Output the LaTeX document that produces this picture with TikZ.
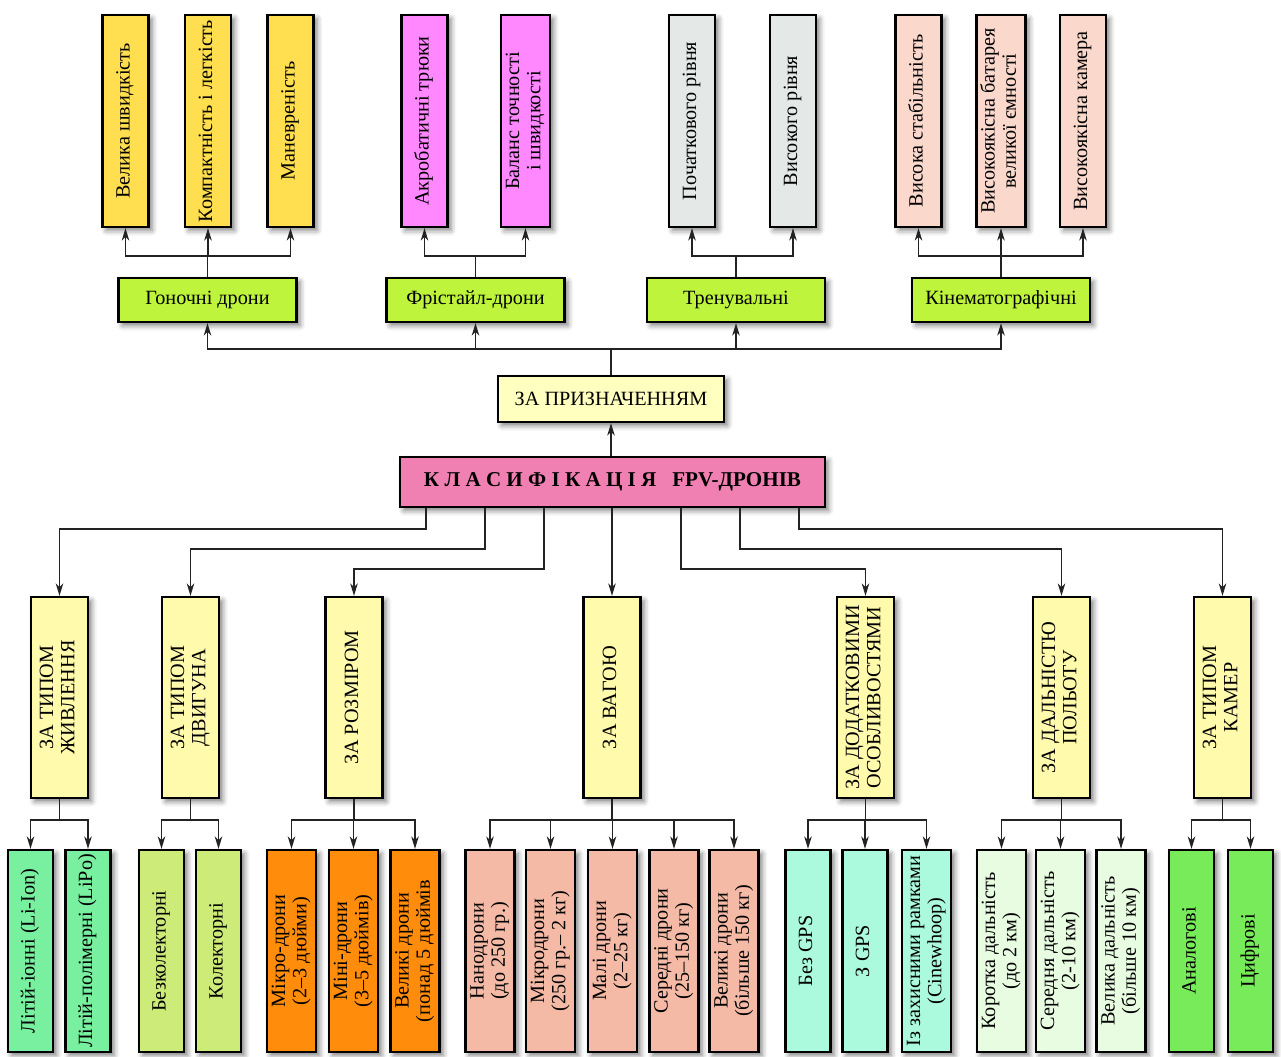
\documentclass[tikz,border=0pt]{standalone}
\usepackage{fontspec}
\setmainfont{Liberation Serif}
\usetikzlibrary{arrows.meta, calc, shadows.blur}

\definecolor{topyel}{RGB}{255,222,80}
\definecolor{topmag}{RGB}{255,135,255}
\definecolor{topgray}{RGB}{228,232,230}
\definecolor{toppeach}{RGB}{250,216,204}
\definecolor{lime}{RGB}{190,245,60}
\definecolor{paleyel}{RGB}{255,255,192}
\definecolor{mainpink}{RGB}{240,128,178}
\definecolor{catyel}{RGB}{255,250,172}
\definecolor{mint}{RGB}{120,240,160}
\definecolor{olivegr}{RGB}{205,235,120}
\definecolor{orng}{RGB}{255,140,10}
\definecolor{salmon}{RGB}{245,186,166}
\definecolor{aqua}{RGB}{172,250,222}
\definecolor{palegr}{RGB}{232,252,225}
\definecolor{camgr}{RGB}{120,235,90}
\definecolor{linecol}{RGB}{35,35,35}

\tikzset{
	box/.style={draw=black, line width=1.3pt, inner sep=2pt, align=center,
		font=\fontsize{11.5}{12}\selectfont,
		blur shadow={shadow xshift=2pt, shadow yshift=-2pt, shadow blur radius=3pt, shadow opacity=50}}
}
\tikzset{
	topbox/.style={box, minimum width=0.92cm, minimum height=4.24cm},
	hbox/.style={box, minimum width=3.56cm, minimum height=0.88cm},
	catbox/.style={box, fill=catyel, minimum width=1.14cm, minimum height=4.02cm},
	leafbox/.style={box, minimum width=0.9cm, minimum height=4.04cm}
}
\tikzset{
	link/.style={draw=linecol, line width=0.9pt},
	arr/.style={link, -{Stealth[length=7pt, width=4.2pt, inset=2pt]}}
}
\newcommand{\vt}[1]{\rotatebox{90}{\begin{tabular}{@{}c@{}}#1\end{tabular}}}

\begin{document}
\begin{tikzpicture}[x=0.02cm, y=-0.02cm]
	\useasboundingbox (0,0) rectangle (1281,1057);

	% top level
	\node[topbox, fill=topyel] (v1) at (125.5,121) {\vt{Велика швидкість}};
	\node[topbox, fill=topyel] (v2) at (208,121) {\vt{Компактність і легкість}};
	\node[topbox, fill=topyel] (v3) at (290.5,121) {\vt{Маневреність}};
	\node[topbox, fill=topmag] (a1) at (424.5,121) {\vt{Акробатичні трюки}};
	\node[topbox, fill=topmag] (a2) at (525.5,121) {\vt{Баланс точності\\і швидкості}};
	\node[topbox, fill=topgray] (t1) at (692,121) {\vt{Початкового рівня}};
	\node[topbox, fill=topgray] (t2) at (793,121) {\vt{Високого рівня}};
	\node[topbox, fill=toppeach] (k1) at (918.5,121) {\vt{Висока стабільність}};
	\node[topbox, fill=toppeach] (k2) at (1001,121) {\vt{Високоякісна батарея\\великої ємності}};
	\node[topbox, fill=toppeach] (k3) at (1083,121) {\vt{Високоякісна камера}};

	\node[hbox, fill=lime] (g1) at (207.5,300) {Гоночні дрони};
	\node[hbox, fill=lime] (g2) at (475.5,300) {Фрістайл-дрони};
	\node[hbox, fill=lime] (g3) at (736,300) {Тренувальні};
	\node[hbox, fill=lime] (g4) at (1001,300) {Кінематографічні};

	\node[box, fill=paleyel, minimum width=4.52cm, minimum height=0.92cm] (zp) at (611,399) {ЗА ПРИЗНАЧЕННЯМ};
	\node[box, fill=mainpink, minimum width=8.5cm, minimum height=1cm, font=\fontsize{12}{14}\selectfont\bfseries] (main) at (612.5,482)
		{К Л А С И Ф І К А Ц І Я \ \ FPV-ДРОНІВ};

	% categories
	\node[catbox] (c1) at (59.5,697.5) {\vt{ЗА ТИПОМ\\ЖИВЛЕННЯ}};
	\node[catbox] (c2) at (190.5,697.5) {\vt{ЗА ТИПОМ\\ДВИГУНА}};
	\node[catbox] (c3) at (354,697.5) {\vt{ЗА РОЗМІРОМ}};
	\node[catbox] (c4) at (612,697.5) {\vt{ЗА ВАГОЮ}};
	\node[catbox] (c5) at (865.5,697.5) {\vt{ЗА ДОДАТКОВИМИ\\ОСОБЛИВОСТЯМИ}};
	\node[catbox] (c6) at (1061.5,697.5) {\vt{ЗА ДАЛЬНІСТЮ\\ПОЛЬОТУ}};
	\node[catbox] (c7) at (1222.5,697.5) {\vt{ЗА ТИПОМ\\КАМЕР}};

	% leaves
	\node[leafbox, fill=mint] (l1) at (30.5,951) {\vt{Літій-іонні (Li-Ion)}};
	\node[leafbox, fill=mint] (l2) at (88,951) {\vt{Літій-полімерні (LiPo)}};
	\node[leafbox, fill=olivegr] (m1) at (161.5,951) {\vt{Безколекторні}};
	\node[leafbox, fill=olivegr] (m2) at (218.5,951) {\vt{Колекторні}};
	\node[leafbox, fill=orng] (s1) at (291.5,951) {\vt{Мікро-дрони\\(2–3 дюйми)}};
	\node[leafbox, fill=orng] (s2) at (353.5,951) {\vt{Міні-дрони\\(3–5 дюймів)}};
	\node[leafbox, fill=orng] (s3) at (415,951) {\vt{Великі дрони\\(понад 5 дюймів}};
	\node[leafbox, fill=salmon] (w1) at (490,951) {\vt{Нанодрони\\(до 250 гр.)}};
	\node[leafbox, fill=salmon] (w2) at (550.5,951) {\vt{Мікродрони\\(250 гр.– 2 кг)}};
	\node[leafbox, fill=salmon] (w3) at (612.5,951) {\vt{Малі дрони\\(2–25 кг)}};
	\node[leafbox, fill=salmon] (w4) at (674,951) {\vt{Середні дрони\\(25–150 кг)}};
	\node[leafbox, fill=salmon] (w5) at (734,951) {\vt{Великі дрони\\(більше 150 кг)}};
	\node[leafbox, fill=aqua] (f1) at (808,951) {\vt{Без GPS}};
	\node[leafbox, fill=aqua] (f2) at (865,951) {\vt{З GPS}};
	\node[leafbox, fill=aqua] (f3) at (926.5,951) {\vt{Із захисними рамками\\(Cinewhoop)}};
	\node[leafbox, fill=palegr] (r1) at (1001.5,951) {\vt{Коротка дальність\\(до 2 км)}};
	\node[leafbox, fill=palegr] (r2) at (1060.5,951) {\vt{Середня дальність\\(2-10 км)}};
	\node[leafbox, fill=palegr] (r3) at (1121,951) {\vt{Велика дальність\\(більше 10 км)}};
	\node[leafbox, fill=camgr] (p1) at (1191.5,951) {\vt{Аналогові}};
	\node[leafbox, fill=camgr] (p2) at (1250.5,951) {\vt{Цифрові}};

	% arrows up
	\foreach \t in {v1,v2,v3} \draw[arr] (g1.north) -- ++(0,-21) -| (\t.south);
	\foreach \t in {a1,a2} \draw[arr] (g2.north) -- ++(0,-21) -| (\t.south);
	\foreach \t in {t1,t2} \draw[arr] (g3.north) -- ++(0,-21) -| (\t.south);
	\foreach \t in {k1,k2,k3} \draw[arr] (g4.north) -- ++(0,-21) -| (\t.south);
	\draw[link] (zp.north) -- ++(0,-26) coordinate (hub);
	\foreach \g in {g1,g2,g3,g4} \draw[arr] (hub) -| (\g.south);
	\draw[arr] (zp.south |- main.north) -- (zp.south);

	% arrows down
	\draw[arr] ($(main.south)+(-186.5,0)$) -- ++(0,21) -| (c1.north);
	\draw[arr] ($(main.south)+(-127.5,0)$) -- ++(0,41) -| (c2.north);
	\draw[arr] ($(main.south)+(-68.5,0)$) -- ++(0,61) -| (c3.north);
	\draw[arr] (c4.north |- main.south) -- (c4.north);
	\draw[arr] ($(main.south)+(68.5,0)$) -- ++(0,61) -| (c5.north);
	\draw[arr] ($(main.south)+(127.5,0)$) -- ++(0,41) -| (c6.north);
	\draw[arr] ($(main.south)+(186.5,0)$) -- ++(0,21) -| (c7.north);

	\foreach \l in {l1,l2} \draw[arr] (c1.south) -- ++(0,21) -| (\l.north);
	\foreach \l in {m1,m2} \draw[arr] (c2.south) -- ++(0,21) -| (\l.north);
	\foreach \l in {s1,s2,s3} \draw[arr] (c3.south) -- ++(0,21) -| (\l.north);
	\foreach \l in {w1,w2,w3,w4,w5} \draw[arr] (c4.south) -- ++(0,21) -| (\l.north);
	\foreach \l in {f1,f2,f3} \draw[arr] (c5.south) -- ++(0,21) -| (\l.north);
	\foreach \l in {r1,r2,r3} \draw[arr] (c6.south) -- ++(0,21) -| (\l.north);
	\foreach \l in {p1,p2} \draw[arr] (c7.south) -- ++(0,21) -| (\l.north);
\end{tikzpicture}
\end{document}
